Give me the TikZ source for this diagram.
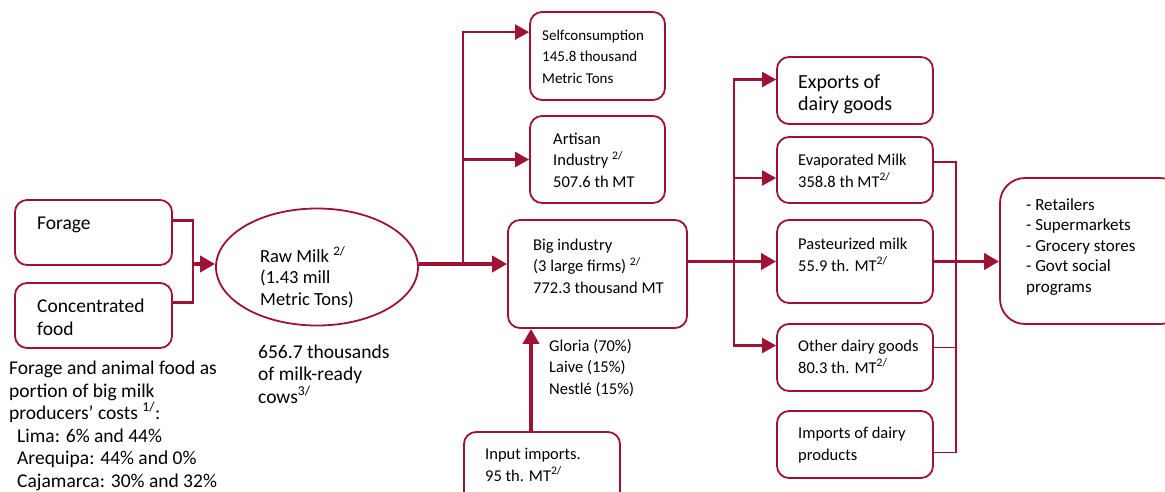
\documentclass[tikz,border=0pt]{standalone}
\usepackage{fontspec}
\setmainfont{Carlito}
\usepackage{tikz}
\usetikzlibrary{arrows.meta, shapes.geometric, positioning, calc}
\definecolor{milkred}{RGB}{158,18,52}

\newcommand{\fnref}[1]{\textsuperscript{#1/}}

\begin{document}
\begin{tikzpicture}[
    x=1pt, y=-1pt,
    box/.style={draw=milkred, line width=1.8pt, rounded corners=12pt, inner sep=0pt},
    txt/.style={anchor=base west, align=left, inner sep=0pt},
    bigtxt/.style={font=\fontsize{19.5}{22.5}\selectfont},
    midtxt/.style={font=\fontsize{18.5}{21.5}\selectfont},
    smalltxt/.style={font=\fontsize{16.5}{21.5}\selectfont},
    flow/.style={draw=milkred, line width=2.4pt, -{Triangle[length=14pt, width=15pt]}},
    bigflow/.style={draw=milkred, line width=3.8pt, -{Triangle[length=15pt, width=16pt]}},
    joinline/.style={draw=milkred, line width=1.9pt}
]

\def\colw{156}   % width of the right column of boxes

\useasboundingbox (0,0) rectangle (1165,491);
\clip (0,0) rectangle (1165,491);

% feed inputs  (text nodes are placed at the baseline of their last line)
\node[box, minimum width=157pt, minimum height=65pt] (forage)   at (93.5,232.5) {};
\node[box, minimum width=157pt, minimum height=65pt] (concfood) at (93.5,315.5) {};
\node[txt, bigtxt] (foragetxt) at (37,229) {Forage};
\node[txt, bigtxt] (concfoodtxt) at (37,335) {Concentrated\\food};
\node[txt, bigtxt] (costnote) at (9,487) {Forage and animal food as\\portion of big milk\\producers’ costs \fnref{1}:\\
    \hspace{8pt}Lima:  6\% and 44\%\\\hspace{8pt}Arequipa:  44\% and 0\%\\\hspace{8pt}Cajamarca: 30\% and 32\%};

% raw milk
\node[draw=milkred, line width=1.8pt, ellipse, minimum width=202pt, minimum height=117pt] (rawmilk) at (317,267) {};
\node[txt, midtxt] (rawmilktxt) at (260,305) {Raw Milk \fnref{2}\\(1.43 mill\\Metric Tons)};
\node[txt, bigtxt] (cowstxt) at (258,403) {656.7 thousands\\of milk-ready\\cows\fnref{3}};

% processors
\node[box, minimum width=135pt, minimum height=88pt]  (selfcons) at (597.5,56) {};
\node[box, minimum width=135pt, minimum height=87pt]  (artisan)  at (597.5,159.5) {};
\node[box, minimum width=179pt, minimum height=108pt] (bigind)   at (597.5,274) {};
\node[box, minimum width=156pt, minimum height=80pt]  (inputimp) at (542,472) {};
\node[txt, font=\fontsize{15}{21.5}\selectfont] (selfconstxt) at (542,83) {Selfconsumption\\145.8 thousand\\Metric Tons};
\node[txt, smalltxt] (artisantxt) at (553,187) {Artisan\\Industry \fnref{2}\\507.6 th MT};
\node[txt, smalltxt] (bigindtxt) at (533,293) {Big industry\\(3 large firms) \fnref{2}\\772.3 thousand MT};
\node[txt, smalltxt] (firmstxt) at (549,394) {Gloria (70\%)\\Laive (15\%)\\Nestlé (15\%)};
\node[txt, smalltxt] (inputimptxt) at (485,481) {Input imports.\\95 th. MT\fnref{2}};

% dairy goods
\node[box, minimum width=\colw pt, minimum height=67pt] (exports)    at (855,90.5) {};
\node[box, minimum width=\colw pt, minimum height=66pt] (evap)       at (855,170) {};
\node[box, minimum width=\colw pt, minimum height=83pt] (pasteur)    at (855,261.5) {};
\node[box, minimum width=\colw pt, minimum height=67pt] (otherdairy) at (855,357.5) {};
\node[box, minimum width=\colw pt, minimum height=67pt] (impdairy)   at (855,444.5) {};
\node[txt, font=\fontsize{20}{22}\selectfont] (exportstxt) at (798,110) {Exports of\\dairy goods};
\node[txt, smalltxt] (evaptxt) at (798,187) {Evaporated Milk\\358.8 th MT\fnref{2}};
\node[txt, smalltxt] (pasteurtxt) at (798,271) {Pasteurized milk\\55.9 th. MT\fnref{2}};
\node[txt, smalltxt] (otherdairytxt) at (798,373) {Other dairy goods\\80.3 th. MT\fnref{2}};
\node[txt, smalltxt] (impdairytxt) at (798,460) {Imports of dairy\\products};

% final channels
\node[box, rounded corners=25pt, minimum width=185pt, minimum height=146pt] (retail) at (1092.5,251) {};
\node[txt, font=\fontsize{17}{20.5}\selectfont] (retailtxt) at (1026,292) {- Retailers\\- Supermarkets\\- Grocery stores\\- Govt social\\programs};

% connectors
\coordinate (merge) at (193,264);
\coordinate (split) at (463,264);
\coordinate (fanout) at (734,262);
\coordinate (collect) at (956,262);

\draw[joinline, line width=2.4pt] ([yshift=12pt]forage.east) -| (merge) |- ([yshift=13pt]concfood.east);
\draw[bigflow] (merge) -- (merge -| rawmilk.west);
\draw[bigflow] (rawmilk.east |- split) -- (split -| bigind.west);
\draw[flow] (split) |- ([yshift=-21pt]selfcons.north west);
\draw[flow] (split) |- (artisan.west);
\draw[bigflow] ([xshift=-11pt]inputimp.north) -- ([xshift=-11pt]inputimp.north |- bigind.south);

\draw[bigflow] (bigind.east |- pasteur.west) -- (pasteur.west);
\draw[flow] (fanout) |- ([yshift=11pt]exports.west);
\draw[flow] (fanout) |- ([yshift=-8pt]evap.west);
\draw[flow] (fanout) |- ([yshift=12pt]otherdairy.west);

\coordinate (evapout) at ([yshift=8pt]evap.east);
\coordinate (otherout) at ([yshift=10pt]otherdairy.east);
\coordinate (impout) at ([yshift=-8pt]impdairy.east);
\draw[joinline] (evapout) -- (evapout -| collect) -- (impout -| collect) -- (impout);
\draw[joinline] (otherout) -- (otherout -| collect);
\draw[bigflow] (pasteur.east) -- (pasteur.east -| retail.west);

\end{tikzpicture}
\end{document}
